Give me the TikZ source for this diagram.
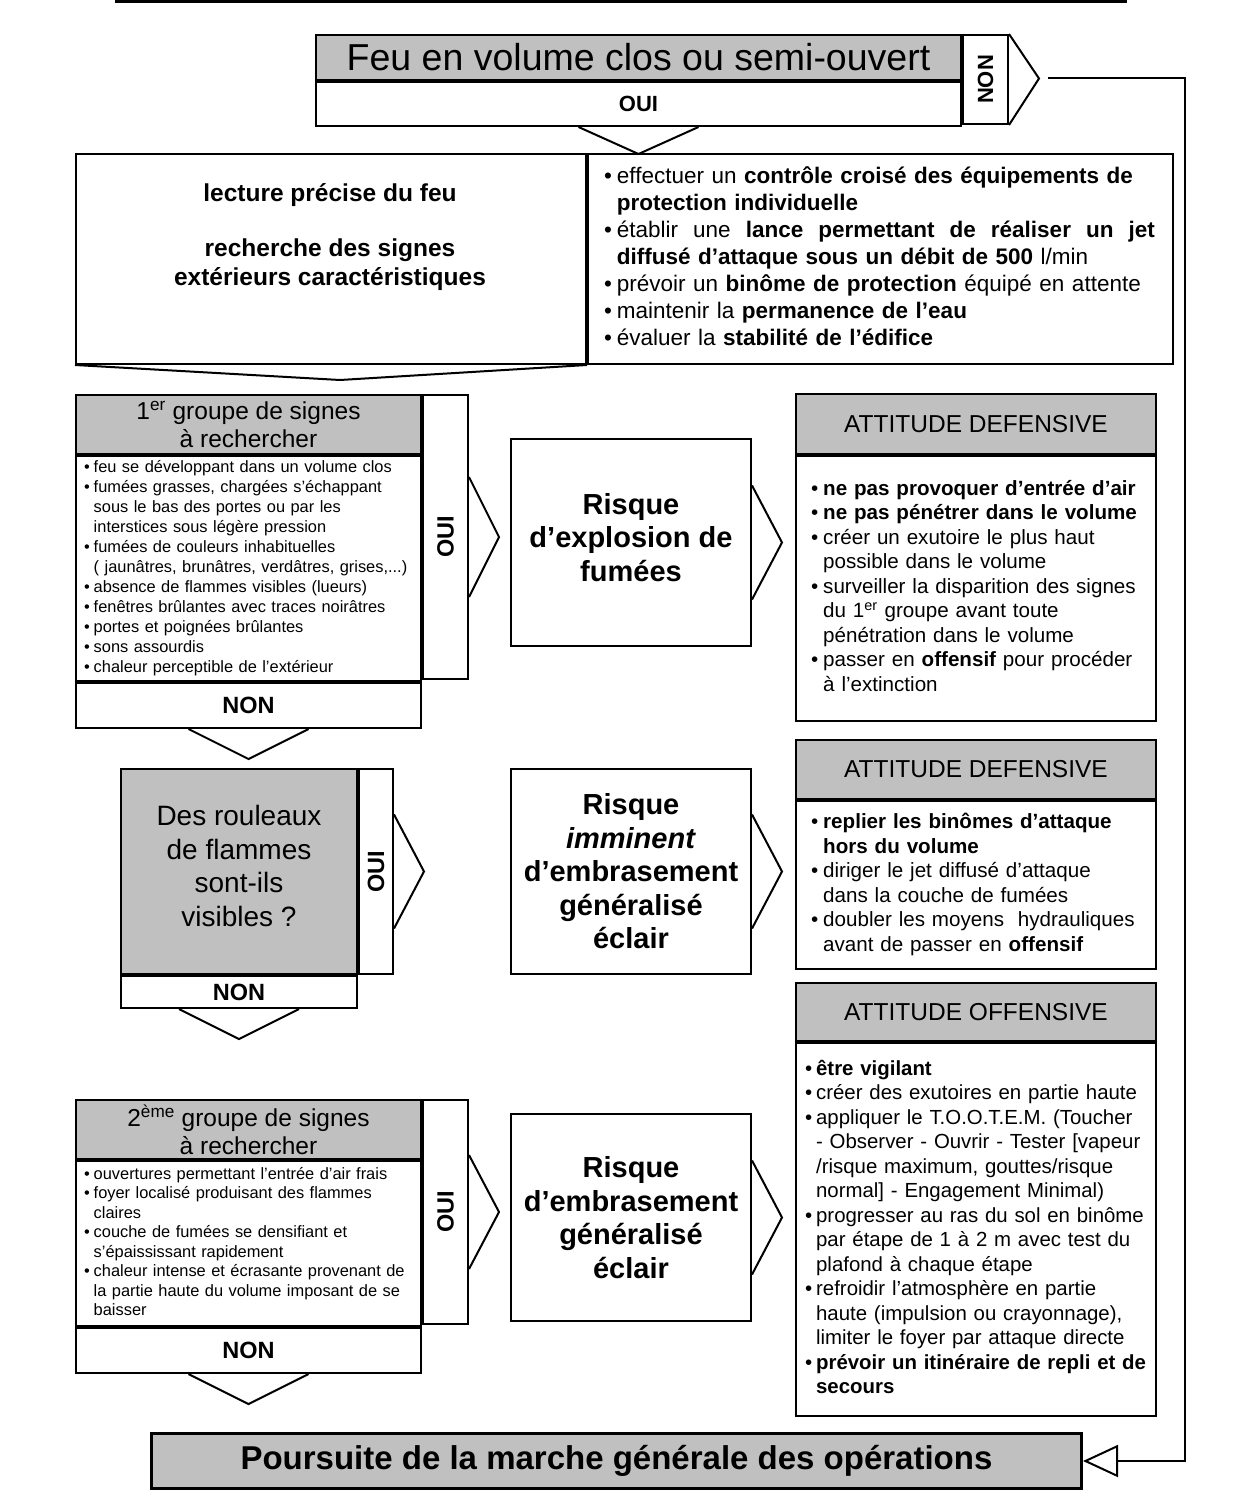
\documentclass[tikz,border=0pt]{standalone}
\usepackage{fontspec}
\setmainfont{Liberation Sans}
\usepackage{graphicx}
\usetikzlibrary{positioning,arrows.meta}
\definecolor{grisfond}{RGB}{192,192,192}

\begin{document}
\begin{tikzpicture}[x=1pt,y=-1pt,
    cadre/.style={draw, line width=2pt, inner sep=0pt, anchor=north west},
    gris/.style={fill=grisfond},
    liste/.style={align=left, inner xsep=#1},
    chevron/.style={line width=2pt, line join=miter},
    titrefont/.style={font=\fontsize{24.5}{28}\selectfont, align=center},
    ouinon/.style={font=\fontsize{23.5}{26}\selectfont\bfseries},
    risque/.style={font=\fontsize{29}{33.5}\selectfont\bfseries, align=center}]
  \useasboundingbox (0,0) rectangle (1240,1511);
  \draw[line width=3pt] (115,2) -- (1127,2);

  % question de depart
  \node[cadre, gris, minimum width=645pt, minimum height=45pt, font=\fontsize{37.5}{40}\selectfont] (titre) at (315,34) {Feu en volume clos ou semi-ouvert};
  \node[cadre, font=\fontsize{22}{26}\selectfont\bfseries, minimum width=645pt, minimum height=44pt] (oui0) at (titre.south west) {OUI};
  \node[cadre, font=\fontsize{22}{26}\selectfont\bfseries, minimum width=45pt, minimum height=89pt] (non0) at (titre.north east) {\rotatebox{90}{NON}};
  \draw[chevron] (non0.north east) -- ++(30,44.5) -- (non0.south east);
  \draw[chevron] (oui0.south) ++(-60,0) -- ++(60,27) -- ++(60,-27);

  % lecture du feu
  \node[cadre, minimum width=510pt, minimum height=210pt] (lecture) at (75,153) {};
  \node[font=\fontsize{24.5}{29}\selectfont\bfseries, align=center] (lecturetxt) at (330,237)
    {lecture précise du feu\\[26pt] recherche des signes\\extérieurs caractéristiques};
  \node[cadre, liste=16pt, text width=553pt, minimum height=210pt, font=\fontsize{22.5}{27}\selectfont] (mesures) at (lecture.north east)
    {\noindent\begin{tabular}{@{}l@{\hspace{5pt}}l@{}}
      \textbullet & effectuer un \textbf{contrôle croisé des équipements de}\\
       & \textbf{protection individuelle}\\
      \textbullet & \makebox[538pt][l]{établir\hfill une\hfill \textbf{lance\hfill permettant\hfill de\hfill réaliser\hfill un\hfill jet}}\\
       & \textbf{diffusé d’attaque sous un débit de 500} l/min\\
      \textbullet & prévoir un \textbf{binôme de protection} équipé en attente\\
      \textbullet & maintenir la \textbf{permanence de l’eau}\\
      \textbullet & évaluer la \textbf{stabilité de l’édifice}
    \end{tabular}};
  \draw[chevron] (lecture.south west) -- ++(265,15) -- (lecture.south east);

  % 1er groupe de signes
  \node[cadre, gris, titrefont, minimum width=345pt, minimum height=59pt] (g1titre) at (75,394)
    {1\textsuperscript{er} groupe de signes\\à rechercher};
  \node[cadre, liste=8pt, text width=329pt, minimum height=225pt, font=\fontsize{16.4}{20}\selectfont] (g1liste) at (g1titre.south west)
    {\noindent\begin{tabular}{@{}l@{\hspace{4pt}}l@{}}
      \textbullet & feu se développant dans un volume clos\\
      \textbullet & fumées grasses, chargées s’échappant\\
       & sous le bas des portes ou par les\\
       & interstices sous légère pression\\
      \textbullet & fumées de couleurs inhabituelles\\
       & ( jaunâtres, brunâtres, verdâtres, grises,...)\\
      \textbullet & absence de flammes visibles (lueurs)\\
      \textbullet & fenêtres brûlantes avec traces noirâtres\\
      \textbullet & portes et poignées brûlantes\\
      \textbullet & sons assourdis\\
      \textbullet & chaleur perceptible de l’extérieur
    \end{tabular}};
  \node[cadre, ouinon, minimum width=345pt, minimum height=45pt] (g1non) at (g1liste.south west) {NON};
  \node[cadre, ouinon, minimum width=45pt, minimum height=284pt] (g1oui) at (g1titre.north east) {\rotatebox{90}{OUI}};
  \draw[chevron] (g1oui.east) ++(0,-60) -- ++(30,60) -- ++(-30,60);
  \draw[chevron] (g1non.south) ++(-60,0) -- ++(60,30) -- ++(60,-30);

  \node[cadre, risque, minimum width=240pt, minimum height=207pt] (risque1) at (510,438)
    {Risque\\d’explosion de\\fumées\\[-23pt]};
  \draw[chevron] (risque1.east) ++(0,-57) -- ++(30,57) -- ++(-30,57);

  \node[cadre, gris, titrefont, minimum width=360pt, minimum height=60pt] (def1titre) at (795,393) {ATTITUDE DEFENSIVE};
  \node[cadre, liste=15pt, text width=330pt, minimum height=265pt, font=\fontsize{20.6}{24.5}\selectfont] (def1liste) at (def1titre.south west)
    {\noindent\begin{tabular}{@{}l@{\hspace{5pt}}l@{}}
      \textbullet & \textbf{ne pas provoquer d’entrée d’air}\\
      \textbullet & \textbf{ne pas pénétrer dans le volume}\\
      \textbullet & créer un exutoire le plus haut\\
       & possible dans le volume\\
      \textbullet & surveiller la disparition des signes\\
       & du 1\textsuperscript{er} groupe avant toute\\
       & pénétration dans le volume\\
      \textbullet & passer en \textbf{offensif} pour procéder\\
       & à l’extinction
    \end{tabular}};

  % rouleaux de flammes
  \node[cadre, gris, font=\fontsize{28}{33.5}\selectfont, align=center, minimum width=236pt, minimum height=205pt] (roul) at (120,768)
    {Des rouleaux\\de flammes\\sont-ils\\visibles ?\\[-22pt]};
  \node[cadre, ouinon, minimum width=236pt, minimum height=32pt] (roulnon) at (roul.south west) {NON};
  \node[cadre, ouinon, minimum width=34pt, minimum height=205pt] (rouloui) at (roul.north east) {\rotatebox{90}{OUI}};
  \draw[chevron] (rouloui.east) ++(0,-57) -- ++(30,57) -- ++(-30,57);
  \draw[chevron] (roulnon.south) ++(-60,0) -- ++(60,30) -- ++(60,-30);

  \node[cadre, risque, minimum width=240pt, minimum height=205pt] (risque2) at (510,768)
    {Risque\\\textit{imminent}\\d’embrasement\\généralisé\\éclair};
  \draw[chevron] (risque2.east) ++(0,-57) -- ++(30,57) -- ++(-30,57);

  \node[cadre, gris, titrefont, minimum width=360pt, minimum height=59pt] (def2titre) at (795,739) {ATTITUDE DEFENSIVE};
  \node[cadre, liste=15pt, text width=330pt, minimum height=168pt, font=\fontsize{20.6}{24.5}\selectfont] (def2liste) at (def2titre.south west)
    {\noindent\begin{tabular}{@{}l@{\hspace{5pt}}l@{}}
      \textbullet & \textbf{replier les binômes d’attaque}\\
       & \textbf{hors du volume}\\
      \textbullet & diriger le jet diffusé d’attaque\\
       & dans la couche de fumées\\
      \textbullet & doubler les moyens\ \ hydrauliques\\
       & avant de passer en \textbf{offensif}
    \end{tabular}};

  \node[cadre, gris, titrefont, minimum width=360pt, minimum height=58pt] (offtitre) at (795,982) {ATTITUDE OFFENSIVE};
  \node[cadre, liste=9pt, text width=342pt, minimum height=373pt, font=\fontsize{20.4}{24.5}\selectfont] (offliste) at (offtitre.south west)
    {\noindent\begin{tabular}{@{}l@{\hspace{4pt}}l@{}}
      \textbullet & \textbf{être vigilant}\\
      \textbullet & créer des exutoires en partie haute\\
      \textbullet & appliquer le T.O.O.T.E.M. (Toucher\\
       & - Observer - Ouvrir - Tester [vapeur\\
       & /risque maximum, gouttes/risque\\
       & normal] - Engagement Minimal)\\
      \textbullet & progresser au ras du sol en binôme\\
       & par étape de 1 à 2 m avec test du\\
       & plafond à chaque étape\\
      \textbullet & refroidir l’atmosphère en partie\\
       & haute (impulsion ou crayonnage),\\
       & limiter le foyer par attaque directe\\
      \textbullet & \textbf{prévoir un itinéraire de repli et de}\\
       & \textbf{secours}
    \end{tabular}};

  % 2eme groupe de signes
  \node[cadre, gris, titrefont, minimum width=345pt, minimum height=59pt] (g2titre) at (75,1099)
    {2\textsuperscript{ème} groupe de signes\\à rechercher};
  \node[cadre, liste=8pt, text width=329pt, minimum height=165pt, font=\fontsize{16.4}{19.5}\selectfont] (g2liste) at (g2titre.south west)
    {\noindent\begin{tabular}{@{}l@{\hspace{4pt}}l@{}}
      \textbullet & ouvertures permettant l’entrée d’air frais\\
      \textbullet & foyer localisé produisant des flammes\\
       & claires\\
      \textbullet & couche de fumées se densifiant et\\
       & s’épaississant rapidement\\
      \textbullet & chaleur intense et écrasante provenant de\\
       & la partie haute du volume imposant de se\\
       & baisser
    \end{tabular}};
  \node[cadre, ouinon, minimum width=345pt, minimum height=45pt] (g2non) at (g2liste.south west) {NON};
  \node[cadre, ouinon, minimum width=45pt, minimum height=224pt] (g2oui) at (g2titre.north east) {\rotatebox{90}{OUI}};
  \draw[chevron] (g2oui.east) ++(0,-57) -- ++(30,57) -- ++(-30,57);
  \draw[chevron] (g2non.south) ++(-60,0) -- ++(60,30) -- ++(60,-30);

  \node[cadre, risque, minimum width=240pt, minimum height=207pt] (risque3) at (510,1113)
    {Risque\\d’embrasement\\généralisé\\éclair};
  \draw[chevron] (risque3.east) ++(0,-57) -- ++(30,57) -- ++(-30,57);

  % suite
  \node[cadre, gris, line width=3pt, minimum width=930pt, minimum height=55pt, font=\fontsize{33}{36}\selectfont\bfseries] (fin) at (150,1432)
    {Poursuite de la marche générale des opérations};
  \coordinate (depart) at (1048,78);
  \coordinate (coin) at (1185,78);
  \draw[line width=2pt, -{Triangle[open, length=35pt, width=32pt]}] (depart) -- (coin) |- (fin.east);
\end{tikzpicture}
\end{document}
